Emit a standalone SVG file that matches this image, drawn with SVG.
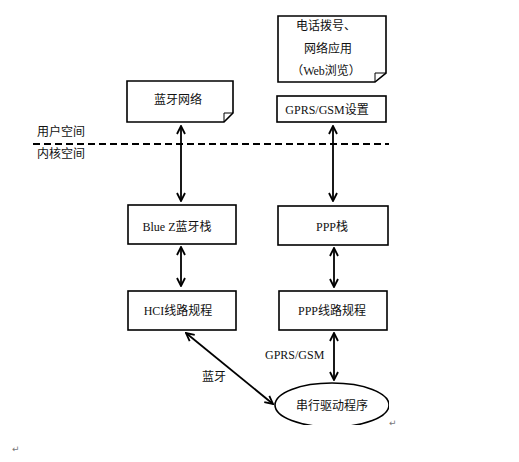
<svg xmlns="http://www.w3.org/2000/svg" width="519" height="462" viewBox="0 0 519 462">
<style>
.box{fill:#fff;stroke:#000;stroke-width:1.6}
.t{font-family:"Liberation Serif","Noto Sans CJK SC",serif;font-size:12px;fill:#111;text-anchor:middle;dominant-baseline:central}
.l{font-family:"Liberation Serif","Noto Sans CJK SC",serif;font-size:12px;fill:#111;dominant-baseline:central}
.c{fill:none;stroke:#000;stroke-width:1.8}
.pm{font-family:"DejaVu Sans",sans-serif;font-size:9px;fill:#777}
</style>
<defs>
<marker id="ah" viewBox="0 0 10 10" refX="9" refY="5" markerUnits="userSpaceOnUse" markerWidth="10" markerHeight="10" orient="auto-start-reverse">
<path d="M1,1 L9,5 L1,9" fill="none" stroke="#000" stroke-width="1.8"/>
</marker>
<clipPath id="clipE"><rect x="260" y="370" width="129" height="55"/></clipPath>
</defs>
<g id="divider">
<line x1="33" y1="144" x2="389" y2="144" stroke="#000" stroke-width="2" stroke-dasharray="7,4"/>
<text class="l" x="37" y="132">用户空间</text>
<text class="l" x="37" y="154">内核空间</text>
</g>
<g id="n-bt-net">
<path class="box" d="M127,81 H233 V113 L224,122 H127 Z"/>
<path d="M233,113 L224,113 L224,122" fill="none" stroke="#000" stroke-width="1"/>
<text class="t" x="178" y="100">蓝牙网络</text>
</g>
<g id="n-app">
<path class="box" d="M278,16 H386 V73 L375,82 H278 Z"/>
<path d="M386,73 L375,73 L375,82" fill="none" stroke="#000" stroke-width="1"/>
<text class="t" x="326" y="26">电话拨号、</text>
<text class="t" x="328" y="49">网络应用</text>
<text class="t" x="326" y="71">（Web浏览）</text>
</g>
<g id="n-gprs-set">
<rect class="box" x="277" y="96" width="109" height="26"/>
<text class="t" x="327" y="110">GPRS/GSM设置</text>
</g>
<g id="n-bluez">
<rect class="box" x="128" y="205" width="108" height="39"/>
<text class="t" x="177" y="227">Blue Z蓝牙栈</text>
</g>
<g id="n-ppp">
<rect class="box" x="278" y="206" width="110" height="39"/>
<text class="t" x="332" y="227">PPP栈</text>
</g>
<g id="n-hci">
<rect class="box" x="128" y="291" width="108" height="39"/>
<text class="t" x="178" y="311">HCI线路规程</text>
</g>
<g id="n-pppline">
<rect class="box" x="279" y="291" width="108" height="39"/>
<text class="t" x="332" y="311">PPP线路规程</text>
</g>
<g id="n-serial">
<ellipse class="box" cx="332" cy="405" rx="57" ry="22" clip-path="url(#clipE)"/>
<text class="t" x="332" y="406">串行驱动程序</text>
</g>
<g id="connectors">
<line class="c" x1="181" y1="126" x2="181" y2="201" marker-start="url(#ah)" marker-end="url(#ah)"/>
<line class="c" x1="333" y1="126" x2="333" y2="201" marker-start="url(#ah)" marker-end="url(#ah)"/>
<line class="c" x1="181" y1="247" x2="181" y2="286" marker-start="url(#ah)" marker-end="url(#ah)"/>
<line class="c" x1="334" y1="248" x2="334" y2="287" marker-start="url(#ah)" marker-end="url(#ah)"/>
<line class="c" x1="334" y1="333" x2="334" y2="380" marker-start="url(#ah)" marker-end="url(#ah)"/>
<line class="c" x1="186" y1="333" x2="273" y2="404" marker-start="url(#ah)" marker-end="url(#ah)"/>
<text class="l" x="202" y="377">蓝牙</text>
<text class="l" x="265" y="355">GPRS/GSM</text>
</g>
<text class="pm" x="389" y="426">↵</text>
<text class="pm" x="12" y="452">↵</text>
</svg>
